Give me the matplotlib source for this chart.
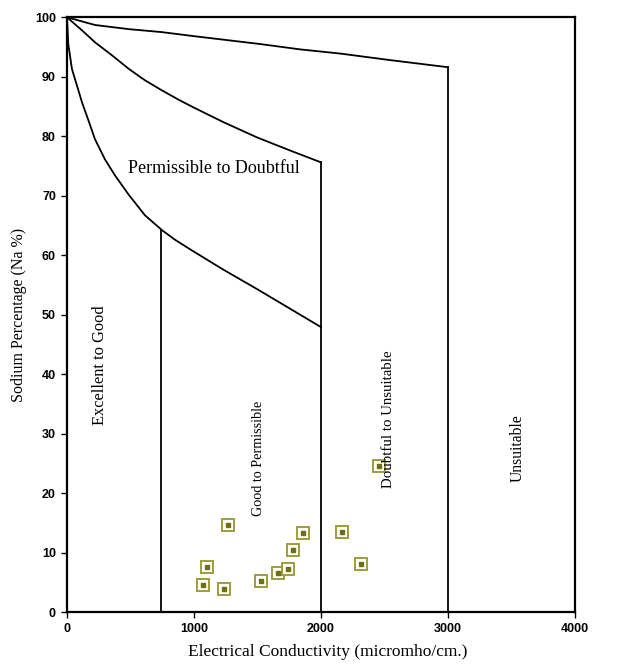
"""
Wilcox diagram : Sodium percentage vs electrical conductivity
"""

import matplotlib
matplotlib.use("Agg")
import matplotlib.pyplot as plt

# Samples (EC in micromho/cm, Na %)
ec = [1268, 1102, 1071, 1236, 1528, 1661, 1740, 1780, 1858, 2165, 2315, 2457]
na = [14.6, 7.6, 4.5, 3.9, 5.2, 6.6, 7.2, 10.4, 13.3, 13.4, 8.1, 24.5]

# Class boundaries
top_x = [0, 220, 488, 748, 1008, 1520, 1835, 2150, 2543, 3000]
top_y = [100, 98.7, 98.0, 97.5, 96.8, 95.5, 94.6, 93.9, 92.8, 91.6]

mid_x = [0, 118, 220, 354, 488, 614, 748, 882, 1000, 1228, 1496, 1756, 2000]
mid_y = [100, 97.8, 95.8, 93.6, 91.3, 89.4, 87.7, 86.1, 84.8, 82.4, 79.8, 77.6, 75.6]

low_x = [0, 10, 39, 63, 118, 173, 220, 299, 378, 488, 614, 748, 850, 968, 1228, 1496, 1756, 2000]
low_y = [100, 95.5, 91.3, 89.6, 85.7, 82.4, 79.5, 76.1, 73.4, 70.1, 66.7, 64.2, 62.6, 61.0, 57.6, 54.3, 51.0, 47.9]

# Vertical limits (x, top)
vlines_x = [740, 2000, 3000]
vlines_top = [64.3, 75.6, 91.6]

# Region labels
zone_text = ["Permissible to Doubtful", "Excellent to Good", "Good to Permissible",
             "Doubtful to Unsuitable", "Unsuitable"]
zone_x = [1157, 260, 1504, 2528, 3551]
zone_y = [74.6, 41.5, 25.9, 32.4, 27.6]
zone_rot = [0, 90, 90, 90, 90]
zone_size = [13, 11.8, 10.2, 10.7, 11.3]

fig = plt.figure(figsize=(6.17, 6.64), dpi=100)
ax = fig.add_axes([0.1086, 0.0783, 0.8234, 0.8957])

ax.plot(top_x, top_y, color='black', lw=1.3)
ax.plot(mid_x, mid_y, color='black', lw=1.3)
ax.plot(low_x, low_y, color='black', lw=1.3)
for x, t in zip(vlines_x, vlines_top):
    ax.plot([x, x], [0, t], color='black', lw=1.3)

# Points : hollow olive square with a dark centre
ax.plot(ec, na, ls='none', marker='s', ms=8.5, mfc='white', mec='#9d9d3a', mew=1.4, zorder=3)
ax.plot(ec, na, ls='none', marker='s', ms=3.5, mfc='#6f6f12', mec='#6f6f12', zorder=4)

for t, x, y, r, s in zip(zone_text, zone_x, zone_y, zone_rot, zone_size):
    ax.text(x, y, t, rotation=r, ha='center', va='center', fontsize=s,
            family='Liberation Serif', zorder=5)

ax.set_xlim(0, 4000)
ax.set_ylim(0, 100)
ax.set_xticks([0, 1000, 2000, 3000, 4000])
ax.set_yticks(range(0, 101, 10))
for lab in ax.get_xticklabels() + ax.get_yticklabels():
    lab.set_family('Liberation Sans')
    lab.set_fontweight('bold')
    lab.set_fontsize(9)
ax.tick_params(direction='out', length=4, width=1, pad=4)
for sp in ax.spines.values():
    sp.set_linewidth(1.6)

ax.set_xlabel('Electrical Conductivity (micromho/cm.)', family='Liberation Serif', fontsize=12.5)
ax.xaxis.set_label_coords(0.514, -0.054)
ax.set_ylabel('Sodium Percentage (Na %)', family='Liberation Serif', fontsize=11.5)
ax.yaxis.set_label_coords(-0.079, 0.5)

fig.savefig('out.png', dpi=100)
